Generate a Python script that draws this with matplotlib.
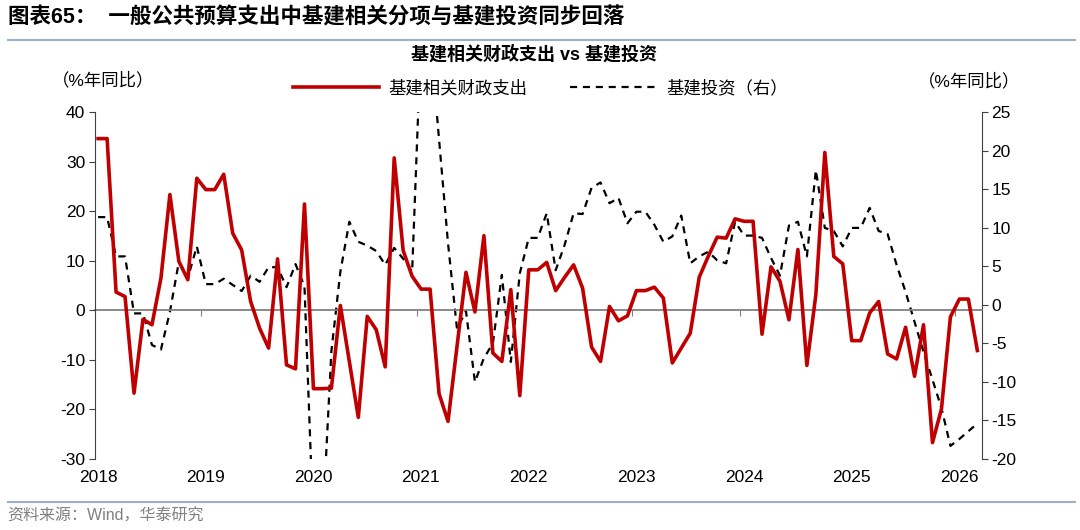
import matplotlib
matplotlib.use("Agg")
import matplotlib.pyplot as plt
from matplotlib.lines import Line2D
import pandas as pd

plt.rcParams['font.family'] = ['Liberation Sans', 'Noto Sans CJK SC', 'DejaVu Sans']
plt.rcParams['axes.unicode_minus'] = False

# monthly data, 2018-01 .. 2026-03
months = pd.date_range('2018-01-01', '2026-03-01', freq='MS')

fiscal_infra = [
    34.7, 34.7, 3.7, 2.8, -16.7, -1.8, -2.9, 6.5, 23.4, 9.9, 6.2, 26.7,
    24.4, 24.4, 27.5, 15.6, 12.2, 1.8, -3.6, -7.6, 10.4, -11.0, -11.8, 21.5,
    -15.8, -15.8, -15.7, 1.0, -10.3, -21.6, -1.2, -3.9, -11.4, 30.8, 12.1, 6.9,
    4.3, 4.3, -16.8, -22.4, -7.3, 7.7, -0.3, 15.1, -8.6, -10.3, 4.2, -17.2,
    8.2, 8.2, 9.7, 4.0, 6.7, 9.2, 4.5, -7.4, -10.3, 0.8, -2.1, -1.1,
    4.0, 4.0, 4.7, 2.5, -10.6, -7.6, -4.6, 6.7, 10.9, 14.8, 14.6, 18.5,
    18.0, 18.0, -4.8, 8.8, 5.9, -1.9, 12.3, -11.1, 3.2, 31.9, 10.9, 9.4,
    -6.1, -6.1, -0.5, 1.8, -8.8, -9.8, -3.4, -13.3, -2.9, -26.7, -19.9, -1.3,
    2.3, 2.3, -8.1,
]

infra_invest = [
    11.4, 11.4, 6.3, 6.3, -1.1, -1.1, -5.2, -5.8, -0.9, 5.6, 3.5, 7.6,
    2.7, 2.7, 3.4, 2.6, 1.8, 3.8, 3.0, 4.9, 4.9, 2.3, 5.3, 2.4,
    -29.0, -29.0, -6.0, 4.3, 10.8, 8.2, 7.7, 7.0, 5.2, 7.4, 6.0, 4.3,
    35.0, 35.0, 21.5, 8.0, -3.1, -0.8, -10.0, -6.9, -5.0, 3.9, -7.4, 4.1,
    8.7, 8.7, 11.9, 4.5, 7.8, 11.9, 11.8, 15.2, 15.9, 13.2, 13.9, 10.6,
    12.1, 12.1, 10.4, 8.2, 8.9, 11.6, 5.4, 6.3, 6.9, 5.8, 5.4, 10.8,
    9.0, 9.0, 8.7, 6.1, 3.8, 10.3, 10.8, 6.3, 17.5, 10.0, 9.6, 7.6,
    10.0, 10.0, 12.6, 9.6, 9.2, 5.2, 1.7, -2.2, -6.1, -9.7, -13.4, -18.3,
    -17.4, -16.4, -15.4,
]

years = list(range(2018, 2027))
left_ticks = [40, 30, 20, 10, 0, -10, -20, -30]
right_ticks = [25, 20, 15, 10, 5, 0, -5, -10, -15, -20]

x = months.year + (months.month - 0.5) / 12

fig = plt.figure(figsize=(10.8, 5.3), dpi=100)
ax = fig.add_axes([0.088, 0.134, 0.821, 0.654])
ax2 = ax.twinx()

ax2.plot(x, infra_invest, color='black', lw=1.6, dashes=(3.2, 2.6), label='基建投资（右）')
ax.plot(x, fiscal_infra, color='#C00000', lw=2.6, label='基建相关财政支出')
ax.set_zorder(ax2.get_zorder() + 1)
ax.patch.set_visible(False)

ax.set_xlim(2018.013, 2026.249)
ax.set_ylim(-30, 40)
ax2.set_ylim(-20, 25)

spine_col = '#404040'
for a in (ax, ax2):
    for s in ('top', 'bottom'):
        a.spines[s].set_visible(False)
ax.spines['right'].set_visible(False)
ax2.spines['left'].set_visible(False)
ax.spines['left'].set_color(spine_col)
ax2.spines['right'].set_color(spine_col)

ax.set_yticks(left_ticks)
ax2.set_yticks(right_ticks)
ax.tick_params(axis='y', direction='out', length=4, color=spine_col, labelsize=12.5, pad=3)
ax2.tick_params(axis='y', direction='out', length=4, color=spine_col, labelsize=12.5, pad=3)

# year labels at the bottom, tick marks on the zero line
ax.set_xticks([y + 0.04 for y in years], [str(y) for y in years])
ax.tick_params(axis='x', length=0, labelsize=12.5, pad=8)
zero_ax = ax.secondary_xaxis(30 / 70)
zero_ax.set_xticks(years)
zero_ax.tick_params(axis='x', direction='out', length=4, color='#808080', labelbottom=False)
zero_ax.spines['bottom'].set_color('#808080')
zero_ax.spines['bottom'].set_linewidth(1.3)

# texts
fig.text(0.007, 0.966, '图表65：  一般公共预算支出中基建相关分项与基建投资同步回落',
         fontsize=15.5, fontweight='bold', va='center', ha='left')
fig.add_artist(Line2D([0.007, 0.995], [0.925, 0.925], color='#9DB0C9', lw=1.5))
fig.text(0.494, 0.898, '基建相关财政支出 vs 基建投资', fontsize=13, fontweight='bold',
         ha='center', va='center')
fig.text(0.095, 0.849, '（%年同比）', fontsize=12.5, ha='center', va='center')
fig.text(0.897, 0.847, '（%年同比）', fontsize=12.5, ha='center', va='center')

handles = ax.get_lines() + ax2.get_lines()
fig.legend(handles, [h.get_label() for h in handles], loc='center', bbox_to_anchor=(0.5, 0.834),
           ncol=2, frameon=False, fontsize=12.5, handlelength=5, columnspacing=2.5, handletextpad=0.5)

fig.add_artist(Line2D([0.007, 0.995], [0.053, 0.053], color='#9DB0C9', lw=1.5))
fig.text(0.007, 0.026, '资料来源：Wind，华泰研究', fontsize=11.5, color='#808080', va='center', ha='left')

fig.savefig('out.png', dpi=100)
